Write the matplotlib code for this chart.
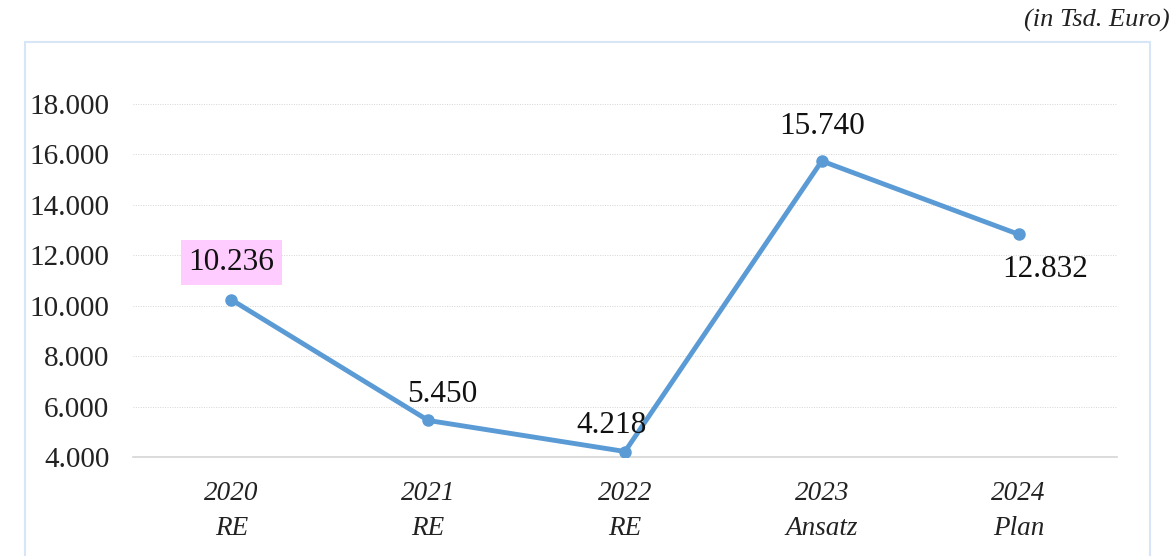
import matplotlib.pyplot as plt
from matplotlib.patches import Rectangle

years = ['2020', '2021', '2022', '2023', '2024']
kinds = ['RE', 'RE', 'RE', 'Ansatz', 'Plan']
values = [10236, 5450, 4218, 15740, 12832]
y_ticks = [4000, 6000, 8000, 10000, 12000, 14000, 16000, 18000]

# label offsets in points (dx, dy)
offsets = [(0, 27), (10, 19), (-10, 19), (0, 25), (19, -25)]


def fmt(v):
    return f'{v:,}'.replace(',', '.')


plt.rcParams['font.family'] = ['Liberation Serif', 'DejaVu Serif']

fig = plt.figure(figsize=(11.76, 5.56), dpi=100)
ax = fig.add_axes([133 / 1176, 99 / 556, 984 / 1176, 353 / 556])

# outer light frame
fig.patches.append(Rectangle((25 / 1176, -0.01), 1125 / 1176, (556 - 42) / 556 + 0.01,
                             transform=fig.transFigure, fill=False,
                             edgecolor='#D6E6F6', linewidth=1.5))

x = list(range(len(values)))
ax.plot(x, values, color='#5B9BD5', linewidth=3.5, marker='o', markersize=8,
        solid_capstyle='round', zorder=3)

for i, v in enumerate(values):
    box = None
    if i == 0:
        box = dict(boxstyle='square,pad=0.25', facecolor='#FFCCFF', edgecolor='none')
    ax.annotate(fmt(v), (i, v), xytext=offsets[i], textcoords='offset points',
                ha='center', va='center', fontsize=22.5, color='#111111', bbox=box, zorder=4)

ax.set_xlim(-0.5, 4.5)
ax.set_ylim(4000, 18000)
ax.set_yticks(y_ticks)
ax.set_yticklabels([fmt(t) for t in y_ticks], fontsize=21, color='#222222')
ax.set_xticks(x)
ax.set_xticklabels([f'{y}\n{k}' for y, k in zip(years, kinds)], fontsize=19.5,
                   style='italic', color='#222222', linespacing=1.55)
ax.tick_params(axis='y', length=0, pad=17)
ax.tick_params(axis='x', length=0, pad=17)

ax.grid(axis='y', linestyle=(0, (1, 1.5)), color='#D5D5D5', linewidth=0.7)
ax.set_axisbelow(True)
for s in ['top', 'right', 'left']:
    ax.spines[s].set_visible(False)
ax.spines['bottom'].set_color('#D6D6D6')
ax.spines['bottom'].set_linewidth(1.2)

fig.text(1170 / 1176, 1 - 20 / 556, '(in Tsd. Euro)', ha='right', va='center',
         fontsize=19, style='italic', color='#222222')

fig.savefig('out.png', dpi=100)
